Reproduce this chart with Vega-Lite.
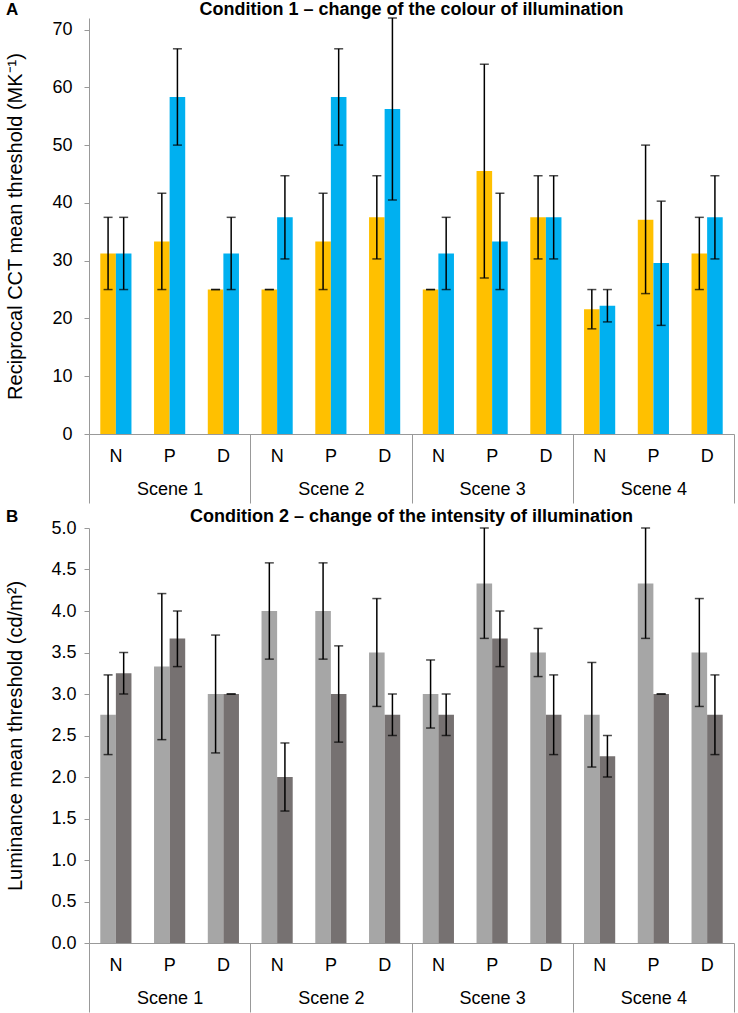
{
  "$schema": "https://vega.github.io/schema/vega-lite/v6.json",
  "padding": {"left": 5, "top": 1, "right": 3, "bottom": 0},
  "config": {
    "font": "Liberation Sans",
    "view": {"stroke": null},
    "axis": {"labelFontSize": 18, "labelColor": "#000", "titleColor": "#000", "titleFontSize": 20, "titleFontWeight": "normal", "domainColor": "#999", "tickColor": "#999", "grid": false, "labelFont": "Liberation Sans", "titleFont": "Liberation Sans"},
    "title": {"font": "Liberation Sans", "color": "#000"},
    "concat": {"spacing": 4}
  },
  "resolve": {"scale": {"color": "independent"}},
  "datasets": {
    "a": [
      {"scene": "Scene 1", "cat": "1N", "series": "1", "value": 31.25, "low": 25, "high": 37.5},
      {"scene": "Scene 1", "cat": "1N", "series": "2", "value": 31.25, "low": 25, "high": 37.5},
      {"scene": "Scene 1", "cat": "1P", "series": "1", "value": 33.33, "low": 25, "high": 41.67},
      {"scene": "Scene 1", "cat": "1P", "series": "2", "value": 58.33, "low": 50, "high": 66.67},
      {"scene": "Scene 1", "cat": "1D", "series": "1", "value": 25, "low": 25, "high": 25},
      {"scene": "Scene 1", "cat": "1D", "series": "2", "value": 31.25, "low": 25, "high": 37.5},
      {"scene": "Scene 2", "cat": "2N", "series": "1", "value": 25, "low": 25, "high": 25},
      {"scene": "Scene 2", "cat": "2N", "series": "2", "value": 37.5, "low": 30.3, "high": 44.7},
      {"scene": "Scene 2", "cat": "2P", "series": "1", "value": 33.33, "low": 25, "high": 41.67},
      {"scene": "Scene 2", "cat": "2P", "series": "2", "value": 58.33, "low": 50, "high": 66.67},
      {"scene": "Scene 2", "cat": "2D", "series": "1", "value": 37.5, "low": 30.3, "high": 44.7},
      {"scene": "Scene 2", "cat": "2D", "series": "2", "value": 56.25, "low": 40.5, "high": 72},
      {"scene": "Scene 3", "cat": "3N", "series": "1", "value": 25, "low": 25, "high": 25},
      {"scene": "Scene 3", "cat": "3N", "series": "2", "value": 31.25, "low": 25, "high": 37.5},
      {"scene": "Scene 3", "cat": "3P", "series": "1", "value": 45.5, "low": 27, "high": 64},
      {"scene": "Scene 3", "cat": "3P", "series": "2", "value": 33.33, "low": 25, "high": 41.67},
      {"scene": "Scene 3", "cat": "3D", "series": "1", "value": 37.5, "low": 30.3, "high": 44.7},
      {"scene": "Scene 3", "cat": "3D", "series": "2", "value": 37.5, "low": 30.3, "high": 44.7},
      {"scene": "Scene 4", "cat": "4N", "series": "1", "value": 21.6, "low": 18.2, "high": 25},
      {"scene": "Scene 4", "cat": "4N", "series": "2", "value": 22.2, "low": 19.4, "high": 25},
      {"scene": "Scene 4", "cat": "4P", "series": "1", "value": 37.1, "low": 24.3, "high": 50},
      {"scene": "Scene 4", "cat": "4P", "series": "2", "value": 29.6, "low": 18.8, "high": 40.3},
      {"scene": "Scene 4", "cat": "4D", "series": "1", "value": 31.25, "low": 25, "high": 37.5},
      {"scene": "Scene 4", "cat": "4D", "series": "2", "value": 37.5, "low": 30.3, "high": 44.7}
    ],
    "b": [
      {"scene": "Scene 1", "cat": "1N", "series": "1", "value": 2.75, "low": 2.27, "high": 3.23},
      {"scene": "Scene 1", "cat": "1N", "series": "2", "value": 3.25, "low": 3.0, "high": 3.5},
      {"scene": "Scene 1", "cat": "1P", "series": "1", "value": 3.33, "low": 2.45, "high": 4.21},
      {"scene": "Scene 1", "cat": "1P", "series": "2", "value": 3.67, "low": 3.33, "high": 4.0},
      {"scene": "Scene 1", "cat": "1D", "series": "1", "value": 3.0, "low": 2.29, "high": 3.71},
      {"scene": "Scene 1", "cat": "1D", "series": "2", "value": 3.0, "low": 3.0, "high": 3.0},
      {"scene": "Scene 2", "cat": "2N", "series": "1", "value": 4.0, "low": 3.42, "high": 4.58},
      {"scene": "Scene 2", "cat": "2N", "series": "2", "value": 2.0, "low": 1.59, "high": 2.41},
      {"scene": "Scene 2", "cat": "2P", "series": "1", "value": 4.0, "low": 3.42, "high": 4.58},
      {"scene": "Scene 2", "cat": "2P", "series": "2", "value": 3.0, "low": 2.42, "high": 3.58},
      {"scene": "Scene 2", "cat": "2D", "series": "1", "value": 3.5, "low": 2.85, "high": 4.15},
      {"scene": "Scene 2", "cat": "2D", "series": "2", "value": 2.75, "low": 2.5, "high": 3.0},
      {"scene": "Scene 3", "cat": "3N", "series": "1", "value": 3.0, "low": 2.59, "high": 3.41},
      {"scene": "Scene 3", "cat": "3N", "series": "2", "value": 2.75, "low": 2.5, "high": 3.0},
      {"scene": "Scene 3", "cat": "3P", "series": "1", "value": 4.33, "low": 3.67, "high": 5.0},
      {"scene": "Scene 3", "cat": "3P", "series": "2", "value": 3.67, "low": 3.33, "high": 4.0},
      {"scene": "Scene 3", "cat": "3D", "series": "1", "value": 3.5, "low": 3.21, "high": 3.79},
      {"scene": "Scene 3", "cat": "3D", "series": "2", "value": 2.75, "low": 2.27, "high": 3.23},
      {"scene": "Scene 4", "cat": "4N", "series": "1", "value": 2.75, "low": 2.12, "high": 3.38},
      {"scene": "Scene 4", "cat": "4N", "series": "2", "value": 2.25, "low": 2.0, "high": 2.5},
      {"scene": "Scene 4", "cat": "4P", "series": "1", "value": 4.33, "low": 3.67, "high": 5.0},
      {"scene": "Scene 4", "cat": "4P", "series": "2", "value": 3.0, "low": 3.0, "high": 3.0},
      {"scene": "Scene 4", "cat": "4D", "series": "1", "value": 3.5, "low": 2.85, "high": 4.15},
      {"scene": "Scene 4", "cat": "4D", "series": "2", "value": 2.75, "low": 2.27, "high": 3.23}
    ]
  },
  "vconcat": [
    {
      "title": {"text": "A", "anchor": "start", "frame": "bounds", "fontSize": 17, "fontWeight": "bold", "offset": -18},
      "vconcat": [
        {
          "title": {"text": "Condition 1 – change of the colour of illumination", "fontSize": 18, "fontWeight": "bold", "offset": -2, "anchor": "middle"},
          "width": 645,
          "height": 416,
          "data": {"name": "a"},
          "layer": [
            {
              "encoding": {
                "x": {"field": "cat", "type": "nominal", "sort": null, "scale": {"paddingInner": 0.42, "paddingOuter": 0.21}, "axis": {"title": null, "labelExpr": "substring(datum.label, 1)", "ticks": false, "labelPadding": 13, "labelAngle": 0}},
                "xOffset": {"field": "series", "type": "nominal", "scale": {"paddingInner": 0, "paddingOuter": 0}}
              },
              "layer": [
                {
                  "mark": {"type": "bar"},
                  "encoding": {
                    "y": {"field": "value", "type": "quantitative", "scale": {"domain": [0, 72], "nice": false}, "axis": {"title": "Reciprocal CCT mean threshold (MK⁻¹)", "values": [0, 10, 20, 30, 40, 50, 60, 70], "format": "d", "tickSize": 5, "labelPadding": 12, "titlePadding": 26}},
                    "color": {"field": "series", "type": "nominal", "scale": {"domain": ["1", "2"], "range": ["#FFC000", "#00B0F0"]}, "legend": null}
                  }
                },
                {
                  "mark": {"type": "rule", "color": "#000", "strokeWidth": 1.5, "clip": false},
                  "encoding": {"y": {"field": "low", "type": "quantitative"}, "y2": {"field": "high"}}
                },
                {
                  "mark": {"type": "tick", "color": "#000", "thickness": 1.5, "size": 9, "orient": "horizontal", "clip": false},
                  "encoding": {"y": {"field": "low", "type": "quantitative"}}
                },
                {
                  "mark": {"type": "tick", "color": "#000", "thickness": 1.5, "size": 9, "orient": "horizontal", "clip": false},
                  "encoding": {"y": {"field": "high", "type": "quantitative"}}
                }
              ]
            },
            {
              "mark": {"type": "bar", "opacity": 0},
              "encoding": {
                "x": {"field": "scene", "type": "nominal", "sort": null, "scale": {"paddingInner": 0, "paddingOuter": 0}, "axis": {"orient": "bottom", "title": null, "tickBand": "extent", "tickSize": 69, "labelPadding": -23, "domain": false, "labelAngle": 0}},
                "y": {"field": "value", "type": "quantitative", "stack": null}
              }
            }
          ],
          "resolve": {"scale": {"x": "independent"}, "axis": {"x": "independent"}}
        }
      ]
    },
    {
      "title": {"text": "B", "anchor": "start", "frame": "bounds", "fontSize": 17, "fontWeight": "bold", "offset": -18},
      "vconcat": [
        {
          "title": {"text": "Condition 2 – change of the intensity of illumination", "fontSize": 18, "fontWeight": "bold", "offset": -7, "anchor": "middle"},
          "width": 645,
          "height": 415,
          "data": {"name": "b"},
          "layer": [
            {
              "encoding": {
                "x": {"field": "cat", "type": "nominal", "sort": null, "scale": {"paddingInner": 0.42, "paddingOuter": 0.21}, "axis": {"title": null, "labelExpr": "substring(datum.label, 1)", "ticks": false, "labelPadding": 13, "labelAngle": 0}},
                "xOffset": {"field": "series", "type": "nominal", "scale": {"paddingInner": 0, "paddingOuter": 0}}
              },
              "layer": [
                {
                  "mark": {"type": "bar"},
                  "encoding": {
                    "y": {"field": "value", "type": "quantitative", "scale": {"domain": [0, 5], "nice": false}, "axis": {"title": "Luminance mean threshold (cd/m²)", "values": [0, 0.5, 1, 1.5, 2, 2.5, 3, 3.5, 4, 4.5, 5], "format": ".1f", "tickSize": 5, "labelPadding": 8, "titlePadding": 25}},
                    "color": {"field": "series", "type": "nominal", "scale": {"domain": ["1", "2"], "range": ["#A6A6A6", "#767171"]}, "legend": null}
                  }
                },
                {
                  "mark": {"type": "rule", "color": "#000", "strokeWidth": 1.5, "clip": false},
                  "encoding": {"y": {"field": "low", "type": "quantitative"}, "y2": {"field": "high"}}
                },
                {
                  "mark": {"type": "tick", "color": "#000", "thickness": 1.5, "size": 9, "orient": "horizontal", "clip": false},
                  "encoding": {"y": {"field": "low", "type": "quantitative"}}
                },
                {
                  "mark": {"type": "tick", "color": "#000", "thickness": 1.5, "size": 9, "orient": "horizontal", "clip": false},
                  "encoding": {"y": {"field": "high", "type": "quantitative"}}
                }
              ]
            },
            {
              "mark": {"type": "bar", "opacity": 0},
              "encoding": {
                "x": {"field": "scene", "type": "nominal", "sort": null, "scale": {"paddingInner": 0, "paddingOuter": 0}, "axis": {"orient": "bottom", "title": null, "tickBand": "extent", "tickSize": 69, "labelPadding": -23, "domain": false, "labelAngle": 0}},
                "y": {"field": "value", "type": "quantitative", "stack": null}
              }
            }
          ],
          "resolve": {"scale": {"x": "independent"}, "axis": {"x": "independent"}}
        }
      ]
    }
  ]
}
